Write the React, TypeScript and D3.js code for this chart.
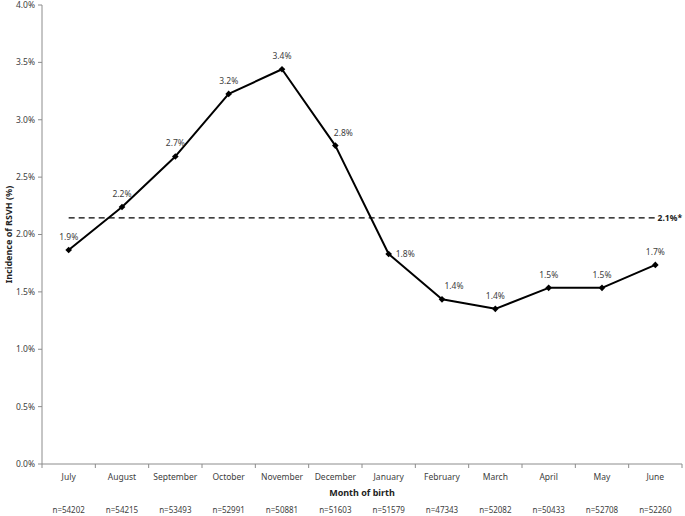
import React from "react";
import * as d3 from "d3";

const months = ["July","August","September","October","November","December","January","February","March","April","May","June"];
const incidence = [1.865, 2.24, 2.68, 3.225, 3.44, 2.775, 1.83, 1.435, 1.352, 1.535, 1.535, 1.735];
const pointLabels = ["1.9%","2.2%","2.7%","3.2%","3.4%","2.8%","1.8%","1.4%","1.4%","1.5%","1.5%","1.7%"];
const sampleSizes = ["n=54202","n=54215","n=53493","n=52991","n=50881","n=51603","n=51579","n=47343","n=52082","n=50433","n=52708","n=52260"];
const yTicks = [0, 0.5, 1, 1.5, 2, 2.5, 3, 3.5, 4];
const overall = 2.145;
const overallLabel = "2.1%*";

const W = 685, H = 516;
const left = 42, right = 682, top = 5, bottom = 464;
const font = "'Noto Sans', 'Open Sans', sans-serif";

export default function App() {
  const x = d3.scaleBand<string>().domain(months).range([left, right]);
  const y = d3.scaleLinear().domain([0, 4]).range([bottom, top]);
  const cx = (m: string) => (x(m) as number) + x.bandwidth() / 2;
  const line = d3.line<number>().x((_, i) => cx(months[i])).y((d) => y(d));
  const diamond = d3.symbol().type(d3.symbolSquare).size(22)();
  const axisColor = "#8c8c8c";
  const textColor = "#404040";
  const labelDx = (i: number) => (i === 7 ? 12 : i === 5 ? 8 : 0);
  return (
    <svg width={W} height={H} style={{ position: "absolute", left: 0, top: 0 }} fontFamily={font}>
      <rect width={W} height={H} fill="#fff" />
      {/* y axis */}
      <line x1={left} x2={left} y1={top} y2={bottom} stroke={axisColor} />
      {yTicks.map((t) => (
        <g key={t}>
          <line x1={left - 4} x2={left} y1={y(t)} y2={y(t)} stroke={axisColor} />
          <text x={left - 7} y={y(t)} dy="0.35em" textAnchor="end" fontSize={8.5} fill={textColor}>
            {t.toFixed(1) + "%"}
          </text>
        </g>
      ))}
      {/* x axis */}
      <line x1={left} x2={right} y1={bottom} y2={bottom} stroke={axisColor} />
      {months.map((m) => (
        <line key={m} x1={x(m)} x2={x(m)} y1={bottom} y2={bottom + 4} stroke={axisColor} />
      ))}
      <line x1={right} x2={right} y1={bottom} y2={bottom + 4} stroke={axisColor} />
      {months.map((m, i) => (
        <g key={"l" + m}>
          <text x={cx(m)} y={477} dy="0.35em" textAnchor="middle" fontSize={8.5} fill={textColor}>{m}</text>
          <text x={cx(m)} y={510} dy="0.35em" textAnchor="middle" fontSize={8} fill={textColor}>{sampleSizes[i]}</text>
        </g>
      ))}
      <text x={(left + right) / 2} y={493} dy="0.35em" textAnchor="middle" fontSize={9} fontWeight="bold" fill="#222">Month of birth</text>
      <text transform={`translate(9,${(top + bottom) / 2}) rotate(-90)`} dy="0.35em" textAnchor="middle" fontSize={9} fontWeight="bold" fill="#222">Incidence of RSVH (%)</text>
      {/* overall dashed line */}
      <line x1={cx(months[0])} x2={cx(months[months.length - 1])} y1={y(overall)} y2={y(overall)} stroke="#000" strokeWidth={1.3} strokeDasharray="6,4" />
      <text x={right} y={y(overall)} dy="0.35em" textAnchor="end" fontSize={8.5} fontWeight="bold" fill="#222">{overallLabel}</text>
      {/* series */}
      <path d={line(incidence) as string} fill="none" stroke="#000" strokeWidth={2} strokeLinejoin="round" />
      {incidence.map((v, i) => (
        <path key={"p" + i} d={diamond as string} transform={`translate(${cx(months[i])},${y(v)}) rotate(45)`} fill="#000" />
      ))}
      {incidence.map((v, i) =>
        i === 6 ? (
          <text key={"t" + i} x={cx(months[i]) + 7} y={y(v)} dy="0.35em" textAnchor="start" fontSize={8.5} fill={textColor}>{pointLabels[i]}</text>
        ) : (
          <text key={"t" + i} x={cx(months[i]) + labelDx(i)} y={y(v) - 13} dy="0.35em" textAnchor="middle" fontSize={8.5} fill={textColor}>{pointLabels[i]}</text>
        )
      )}
    </svg>
  );
}
